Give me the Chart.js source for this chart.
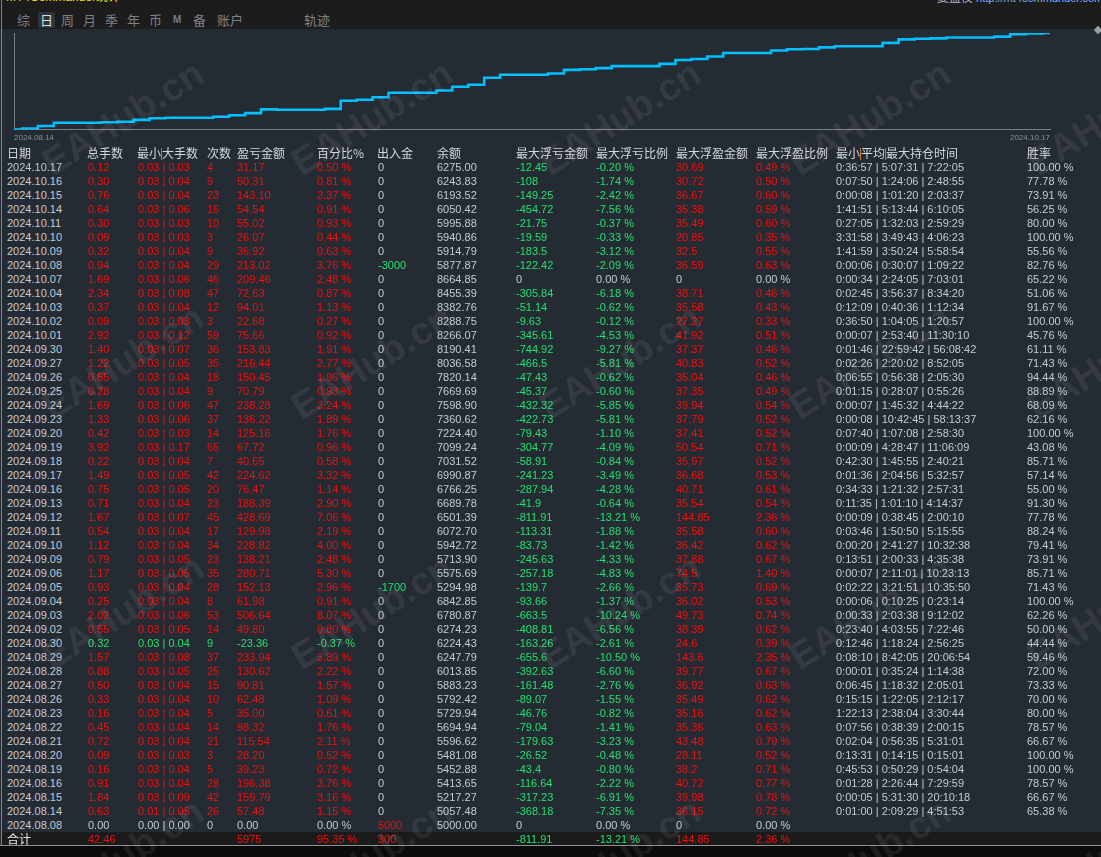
<!DOCTYPE html>
<html><head><meta charset="utf-8">
<script src="https://cdn.jsdelivr.net/npm/chart.js@4/dist/chart.umd.min.js"></script>
<style>
html,body{margin:0;padding:0;background:#0b0b0b;}
body{width:1101px;height:857px;position:relative;overflow:hidden;font-family:"Liberation Sans","Noto Sans CJK SC",sans-serif;}
#topbar{position:absolute;left:0;top:0;width:1101px;height:29px;background:#1c1c1c;overflow:hidden;}
#panel{position:absolute;left:0;top:29px;width:1101px;height:817px;background:#252b33;}
#chartBox{position:absolute;left:0;top:29px;width:1101px;height:117px;}
#lborder{position:absolute;left:1px;top:0;width:1px;height:846px;background:#7f848b;}
#bborder{position:absolute;left:0;top:845px;width:1101px;height:1px;background:#8a8f96;}
#totalbg{position:absolute;left:2px;top:832px;width:1099px;height:13px;background:#1b1b1b;}
.t{position:absolute;white-space:nowrap;font-size:11px;line-height:14px;height:14px;}
.h{position:absolute;white-space:nowrap;font-size:12px;line-height:14px;height:14px;color:#d3d8de;font-family:"Noto Sans CJK SC","Liberation Sans",sans-serif;}
.bar{display:inline-block;width:0;height:12px;border-left:1px solid #c27a2a;vertical-align:-2px;}
.tab{position:absolute;top:12px;height:16px;line-height:16px;font-size:13px;color:#7c828a;font-family:"Noto Sans CJK SC",sans-serif;white-space:nowrap;}
.wm{position:absolute;font:bold 38px "Liberation Sans",sans-serif;color:rgba(255,255,255,0.075);transform:translate(-50%,-50%) rotate(-32deg);white-space:nowrap;pointer-events:none;}
</style></head>
<body>
<div id="topbar">
  <div style="position:absolute;left:6px;top:-9px;font-size:12px;line-height:12px;color:#f2e21a;">MT4Commander统计</div>
  <div style="position:absolute;left:937px;top:-8px;font-size:11px;line-height:12px;white-space:nowrap;"><span style="color:#a9b4c6;font-size:12px;">复盘仪</span> <span style="color:#82b2ff;">http://mt4commander.com</span></div>
  <div style="position:absolute;left:38px;top:12px;width:17px;height:16px;background:#2e343c;border-radius:2px;"></div>
  <div class="tab" style="left:17px">综</div>
  <div class="tab" style="left:40px;color:#d9dee4">日</div>
  <div class="tab" style="left:61px">周</div>
  <div class="tab" style="left:83px">月</div>
  <div class="tab" style="left:105px">季</div>
  <div class="tab" style="left:127px">年</div>
  <div class="tab" style="left:149px">币</div>
  <div class="tab" style="left:173px;font:bold 10px 'Liberation Sans';line-height:16px;color:#6b7d9c">M</div>
  <div class="tab" style="left:193px">备</div>
  <div class="tab" style="left:217px">账户</div>
  <div class="tab" style="left:304px">轨迹</div>
</div>
<div id="panel"></div>
<div id="chartBox"><canvas id="c"></canvas></div>
<div id="totalbg"></div>
<div id="lborder"></div>
<div id="bborder"></div>
<div style="position:absolute;left:1095px;top:27px;width:6px;height:6px;background:#9aa0a6;transform:rotate(45deg);"></div>
<div id="table"></div>
<div id="wms"></div>
<script>
const dates = ['2024.10.17','2024.10.16','2024.10.15','2024.10.14','2024.10.11','2024.10.10','2024.10.09','2024.10.08','2024.10.07','2024.10.04','2024.10.03','2024.10.02','2024.10.01','2024.09.30','2024.09.27','2024.09.26','2024.09.25','2024.09.24','2024.09.23','2024.09.20','2024.09.19','2024.09.18','2024.09.17','2024.09.16','2024.09.13','2024.09.12','2024.09.11','2024.09.10','2024.09.09','2024.09.06','2024.09.05','2024.09.04','2024.09.03','2024.09.02','2024.08.30','2024.08.29','2024.08.28','2024.08.27','2024.08.26','2024.08.23','2024.08.22','2024.08.21','2024.08.20','2024.08.19','2024.08.16','2024.08.15','2024.08.14','2024.08.08'];
const lots = ['0.12','0.30','0.76','0.64','0.30','0.09','0.32','0.94','1.69','2.34','0.37','0.09','2.92','1.40','1.22','0.55','0.28','1.69','1.33','0.42','3.92','0.22','1.49','0.75','0.71','1.67','0.54','1.12','0.79','1.17','0.93','0.25','2.02','0.55','0.32','1.57','0.88','0.50','0.33','0.16','0.45','0.72','0.09','0.16','0.91','1.84','0.63','0.00'];
const minLot = ['0.03','0.03','0.03','0.03','0.03','0.03','0.03','0.03','0.03','0.03','0.03','0.03','0.03','0.03','0.03','0.03','0.03','0.03','0.03','0.03','0.03','0.03','0.03','0.03','0.03','0.03','0.03','0.03','0.03','0.03','0.03','0.03','0.03','0.03','0.03','0.03','0.03','0.03','0.03','0.03','0.03','0.03','0.03','0.03','0.03','0.03','0.01','0.00'];
const maxLot = ['0.03','0.04','0.04','0.06','0.03','0.03','0.04','0.04','0.06','0.08','0.04','0.03','0.12','0.07','0.05','0.04','0.04','0.06','0.06','0.03','0.17','0.04','0.05','0.05','0.04','0.07','0.04','0.04','0.05','0.05','0.04','0.04','0.06','0.05','0.04','0.08','0.05','0.04','0.04','0.04','0.04','0.04','0.03','0.04','0.04','0.09','0.05','0.00'];
const counts = ['4','9','23','16','10','3','9','29','46','47','12','3','59','36','35','18','9','47','37','14','65','7','42','20','23','45','17','34','23','35','28','8','53','14','9','37','25','15','10','5','14','21','3','5','28','42','26','0'];
const profit = ['31.17','50.31','143.10','54.54','55.02','26.07','36.92','213.02','209.46','72.63','94.01','22.68','75.66','153.83','216.44','150.45','70.79','238.28','136.22','125.16','67.72','40.65','224.62','76.47','188.39','428.69','129.98','228.82','138.21','280.71','152.13','61.98','506.64','49.80','-23.36','233.94','130.62','90.81','62.48','35.00','98.32','115.54','28.20','39.23','196.38','159.79','57.48','0.00'];
const profitPct = ['0.50','0.81','2.37','0.91','0.93','0.44','0.63','3.76','2.48','0.87','1.13','0.27','0.92','1.91','2.77','1.96','0.93','3.24','1.89','1.76','0.96','0.58','3.32','1.14','2.90','7.06','2.19','4.00','2.48','5.30','2.96','0.91','8.07','0.80','-0.37','3.89','2.22','1.57','1.09','0.61','1.76','2.11','0.52','0.72','3.76','3.16','1.15','0.00'];
const inout = ['0','0','0','0','0','0','0','-3000','0','0','0','0','0','0','0','0','0','0','0','0','0','0','0','0','0','0','0','0','0','0','-1700','0','0','0','0','0','0','0','0','0','0','0','0','0','0','0','0','5000'];
const balance = ['6275.00','6243.83','6193.52','6050.42','5995.88','5940.86','5914.79','5877.87','8664.85','8455.39','8382.76','8288.75','8266.07','8190.41','8036.58','7820.14','7669.69','7598.90','7360.62','7224.40','7099.24','7031.52','6990.87','6766.25','6689.78','6501.39','6072.70','5942.72','5713.90','5575.69','5294.98','6842.85','6780.87','6274.23','6224.43','6247.79','6013.85','5883.23','5792.42','5729.94','5694.94','5596.62','5481.08','5452.88','5413.65','5217.27','5057.48','5000.00'];
const maxLoss = ['-12.45','-108','-149.25','-454.72','-21.75','-19.59','-183.5','-122.42','0','-305.84','-51.14','-9.63','-345.61','-744.92','-466.5','-47.43','-45.37','-432.32','-422.73','-79.43','-304.77','-58.91','-241.23','-287.94','-41.9','-811.91','-113.31','-83.73','-245.63','-257.18','-139.7','-93.66','-663.5','-408.81','-163.26','-655.6','-392.63','-161.48','-89.07','-46.76','-79.04','-179.63','-26.52','-43.4','-116.64','-317.23','-368.18','0'];
const maxLossPct = ['-0.20','-1.74','-2.42','-7.56','-0.37','-0.33','-3.12','-2.09','0.00','-6.18','-0.62','-0.12','-4.53','-9.27','-5.81','-0.62','-0.60','-5.85','-5.81','-1.10','-4.09','-0.84','-3.49','-4.28','-0.64','-13.21','-1.88','-1.42','-4.33','-4.83','-2.66','-1.37','-10.24','-6.56','-2.61','-10.50','-6.60','-2.76','-1.55','-0.82','-1.41','-3.23','-0.48','-0.80','-2.22','-6.91','-7.35','0.00'];
const maxGain = ['30.69','30.72','36.67','35.38','35.49','20.85','32.5','36.59','0','38.71','35.58','27.27','41.92','37.37','40.83','35.04','37.35','39.94','37.79','37.41','50.54','35.97','36.68','40.71','35.54','144.85','35.58','36.42','37.88','74.5','35.73','36.02','49.73','38.39','24.6','143.6','39.77','36.92','35.49','35.16','35.36','43.48','28.11','38.2','40.72','39.98','36.15','0'];
const maxGainPct = ['0.49','0.50','0.60','0.59','0.60','0.35','0.55','0.63','0.00','0.46','0.43','0.33','0.51','0.46','0.52','0.46','0.49','0.54','0.52','0.52','0.71','0.52','0.53','0.61','0.54','2.36','0.60','0.62','0.67','1.40','0.69','0.53','0.74','0.62','0.39','2.35','0.67','0.63','0.62','0.62','0.63','0.79','0.52','0.71','0.77','0.78','0.72','0.00'];
const holdMin = ['0:36:57','0:07:50','0:00:08','1:41:51','0:27:05','3:31:58','1:41:59','0:00:06','0:00:34','0:02:45','0:12:09','0:36:50','0:00:07','0:01:46','0:02:26','0:06:55','0:01:15','0:00:07','0:00:08','0:07:40','0:00:09','0:42:30','0:01:36','0:34:33','0:11:35','0:00:09','0:03:46','0:00:20','0:13:51','0:00:07','0:02:22','0:00:06','0:00:33','0:23:40','0:12:46','0:08:10','0:00:01','0:06:45','0:15:15','1:22:13','0:07:56','0:02:04','0:13:31','0:45:53','0:01:28','0:00:05','0:01:00',''];
const holdAvg = ['5:07:31','1:24:06','1:01:20','5:13:44','1:32:03','3:49:43','3:50:24','0:30:07','2:24:05','3:56:37','0:40:36','1:04:05','2:53:40','22:59:42','2:20:02','0:56:38','0:28:07','1:45:32','10:42:45','1:07:08','4:28:47','1:45:55','2:04:56','1:21:32','1:01:10','0:38:45','1:50:50','2:41:27','2:00:33','2:11:01','3:21:51','0:10:25','2:03:38','4:03:55','1:18:24','8:42:05','0:35:24','1:18:32','1:22:05','2:38:04','0:38:39','0:56:35','0:14:15','0:50:29','2:26:44','5:31:30','2:09:29',''];
const holdMax = ['7:22:05','2:48:55','2:03:37','6:10:05','2:59:29','4:06:23','5:58:54','1:09:22','7:03:01','8:34:20','1:12:34','1:20:57','11:30:10','56:08:42','8:52:05','2:05:30','0:55:26','4:44:22','58:13:37','2:58:30','11:06:09','2:40:21','5:32:57','2:57:31','4:14:37','2:00:10','5:15:55','10:32:38','4:35:38','10:23:13','10:35:50','0:23:14','9:12:02','7:22:46','2:56:25','20:06:54','1:14:38','2:05:01','2:12:17','3:30:44','2:00:15','5:31:01','0:15:01','0:54:04','7:29:59','20:10:18','4:51:53',''];
const winRate = ['100.00','77.78','73.91','56.25','80.00','100.00','55.56','82.76','65.22','51.06','91.67','100.00','45.76','61.11','71.43','94.44','88.89','68.09','62.16','100.00','43.08','85.71','57.14','55.00','91.30','77.78','88.24','79.41','73.91','85.71','71.43','100.00','62.26','50.00','44.44','59.46','72.00','73.33','70.00','80.00','78.57','66.67','100.00','100.00','78.57','66.67','65.38',''];
const totals = {lots:'42.46', profit:'5975', pct:'95.35', inout:'300', maxLoss:'-811.91', maxLossPct:'-13.21', maxGain:'144.85', maxGainPct:'2.36'};
const headers = [['日期',7],['总手数',87],['最小|大手数',137],['次数',207],['盈亏金额',237],['百分比%',317],['出入金',377],['余额',437],['最大浮亏金额',516],['最大浮亏比例',596],['最大浮盈金额',676],['最大浮盈比例',756],['最小|平均|最大持仓时间',836],['胜率',1027]];

const GRAY='#c3cbd6', RED='#f20e0e', GREEN='#22e06e';
function sc(v){const n=parseFloat(v);return n>0?RED:(n<0?GREEN:GRAY);}
const tbl=document.getElementById('table');
function cell(x,y,txt,color,cls){const d=document.createElement('div');d.className=cls||'t';d.style.left=x+'px';d.style.top=y+'px';if(color)d.style.color=color;d.textContent=txt;tbl.appendChild(d);return d;}
headers.forEach(([h,x])=>{const d=cell(x,146,'',null,'h');d.innerHTML=h.split('|').join('<span class="bar"></span>');});
dates.forEach((dt,i)=>{
  const y=160+14*i, pc=sc(profit[i]);
  cell(7,y,dt,GRAY);
  cell(88,y,lots[i],pc);
  cell(138,y,minLot[i]+' | '+maxLot[i],pc);
  cell(207,y,counts[i],pc);
  cell(237,y,profit[i],pc);
  cell(317,y,profitPct[i]+' %',pc);
  cell(378,y,inout[i],sc(inout[i]));
  cell(437,y,balance[i],GRAY);
  cell(516,y,maxLoss[i],sc(maxLoss[i]));
  cell(596,y,maxLossPct[i]+' %',sc(maxLossPct[i]));
  cell(676,y,maxGain[i],sc(maxGain[i]));
  cell(756,y,maxGainPct[i]+' %',sc(maxGainPct[i]));
  if(holdMin[i]) cell(836,y,holdMin[i]+' | '+holdAvg[i]+' | '+holdMax[i],GRAY);
  if(winRate[i]) cell(1027,y,winRate[i]+' %',GRAY);
});
const ty=832;
{const d=cell(7,ty,'合计','#e2e4e8','h');}
cell(88,ty,totals.lots,sc(totals.lots));
cell(237,ty,totals.profit,sc(totals.profit));
cell(317,ty,totals.pct+' %',sc(totals.pct));
cell(378,ty,totals.inout,sc(totals.inout));
cell(516,ty,totals.maxLoss,sc(totals.maxLoss));
cell(596,ty,totals.maxLossPct+' %',sc(totals.maxLossPct));
cell(676,ty,totals.maxGain,sc(totals.maxGain));
cell(756,ty,totals.maxGainPct+' %',sc(totals.maxGainPct));

// watermarks
const wm=document.getElementById('wms');
[123,372,620,870,1108].forEach(cx=>[118,362,612,856].forEach(cy=>{const d=document.createElement('div');d.className='wm';d.style.left=cx+'px';d.style.top=cy+'px';d.textContent='EAHub.cn';wm.appendChild(d);}));

// equity curve: cumulative daily profit, oldest first (skip initial deposit day)
const chartDates = dates.slice(0,-1).reverse();
const chartProfit = profit.slice(0,-1).reverse().map(Number);
function dayNum(s){const [y,m,d]=s.split('.').map(Number);return Date.UTC(y,m-1,d)/86400000;}
const d0=dayNum(chartDates[0]);
const offs=chartDates.map(s=>dayNum(s)-d0);
const pts=[{x:0,y:0}];
let cum=0;
chartProfit.forEach((p,i)=>{cum+=p;pts.push({x:offs[i]+0.5,y:cum});});
const endX=offs[offs.length-1]+1;
pts.push({x:endX,y:cum});
const yMax=Math.max(...pts.map(p=>p.y));

new Chart(document.getElementById('c'),{
  type:'line',
  data:{datasets:[{data:pts,borderColor:'#00bfff',borderWidth:2.6,stepped:true,pointRadius:0,fill:false,tension:0}]},
  options:{
    responsive:true,maintainAspectRatio:false,animation:false,devicePixelRatio:1,
    layout:{padding:{left:14,right:51,top:4,bottom:0}},
    plugins:{legend:{display:false},tooltip:{enabled:false}},
    scales:{
      x:{type:'linear',min:0,max:endX,
        grid:{display:false,drawTicks:false},
        border:{display:true,color:'#7c8188',width:1},
        afterBuildTicks:s=>{s.ticks=[{value:s.min},{value:s.max}];},
        afterFit:s=>{s.height=16.5;},
        ticks:{align:'inner',padding:3,maxRotation:0,autoSkip:false,color:'#8a9098',font:{size:8,family:'Liberation Sans'},
          callback:(v,i)=> i===0?chartDates[0]:chartDates[chartDates.length-1]}},
      y:{min:0,max:yMax,
        grid:{display:false,drawTicks:false},
        border:{display:true,color:'#7c8188',width:1},
        ticks:{display:false},
        afterFit:s=>{s.width=0;}}
    }
  }
});
</script>
</body></html>
